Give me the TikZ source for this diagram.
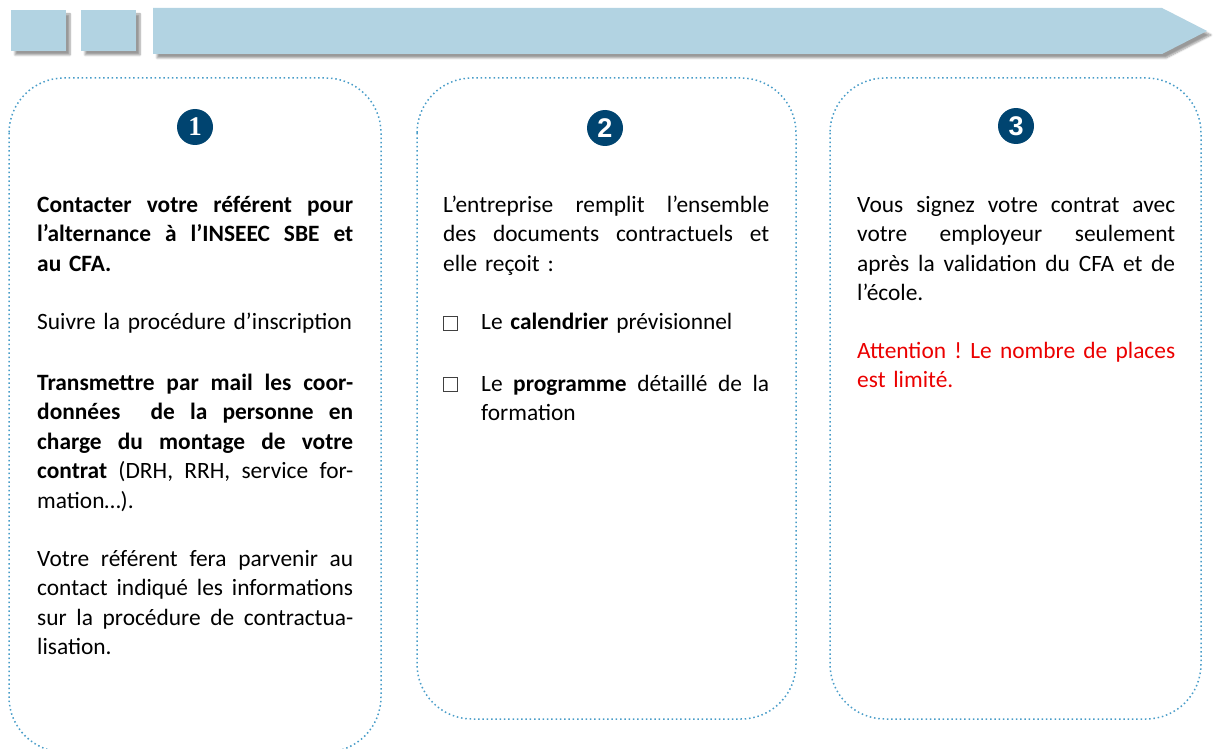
\documentclass[tikz,border=0pt]{standalone}
\usepackage{fontspec}
\setmainfont{Carlito}
\newfontfamily\chiffresans{Liberation Sans}
\newfontfamily\chiffreserif{Liberation Serif}
\usepackage{xcolor}
\usepackage{tikz}
\usetikzlibrary{shadows.blur}
\definecolor{bandeau}{RGB}{178,211,226}
\definecolor{pointille}{RGB}{72,156,200}
\definecolor{pastille}{RGB}{0,68,112}
\definecolor{alerte}{RGB}{235,0,0}
\newcommand{\ligne}[2][316pt]{\makebox[#1][s]{\spaceskip=.226em plus 1fil minus .03em\xspaceskip=\spaceskip #2}}

\begin{document}
\begin{tikzpicture}[x=1pt,y=-1pt,
	ombre/.style={blur shadow={shadow xshift=4pt,shadow yshift=-4pt,shadow blur steps=6,shadow opacity=40}},
	cadre/.style={draw=pointille,line width=1.5pt,dash pattern=on 1.5pt off 2.8pt,rounded corners=55pt},
	numero/.style={circle,fill=pastille,minimum size=36pt,inner sep=0pt,text=white,font=\fontsize{27}{27}\selectfont\bfseries},
	texte/.style={anchor=base west,inner sep=0pt,align=left,font=\fontsize{23.4}{29.5}\selectfont},
	case/.style={draw=black!75,line width=1pt,minimum size=14pt,inner sep=0pt}]
		\useasboundingbox (0,0) rectangle (1215,749);
		\fill[bandeau,ombre] (11,10) rectangle (66,51);
		\fill[bandeau,ombre] (81,10) rectangle (136,51);
		\fill[bandeau,ombre] (153,8) -- (1162,8) -- (1207,31) -- (1162,54) -- (153,54) -- cycle;
		\draw[cadre] (9,78) rectangle (381,752);
		\draw[cadre] (417,78) rectangle (796,719);
		\draw[cadre] (830,78) rectangle (1201,719);
		\node[numero] (n1) at (195,127) {\chiffreserif 1};
		\node[numero] (n2) at (605,128) {\chiffresans 2};
		\node[numero] (n3) at (1016,126) {\chiffresans 3};
		\node[texte,text width=316pt,font=\fontsize{23.4}{29.5}\selectfont\bfseries] (a1) at (37,212)
			{\ligne{Contacter votre référent pour}\\\ligne{l’alternance à l’INSEEC SBE et}\\au CFA.};
		\node[texte,text width=316pt] (a2) at (37,329) {Suivre la procédure d’inscription};
		\node[texte,text width=316pt] (a3) at (37,390)
			{\ligne{\bfseries Transmettre par mail les coor-}\\\ligne{\bfseries données\ \ de la personne en}\\\ligne{\bfseries charge du montage de votre}\\\ligne{\textbf{contrat} (DRH, RRH, service for-}\\mation…).};
		\node[texte,text width=316pt] (a4) at (37,566)
			{\ligne{Votre référent fera parvenir au}\\\ligne{contact indiqué les informations}\\\ligne{sur la procédure de contractua-}\\lisation.};
		\node[texte,text width=326pt] (b1) at (443,212)
			{\ligne[326pt]{L’entreprise remplit l’ensemble}\\\ligne[326pt]{des documents contractuels et}\\elle reçoit :};
		\node[case] (c1) at (450.5,323) {};
		\node[texte,text width=288pt] (b2) at (481,329) {Le \textbf{calendrier} prévisionnel};
		\node[case] (c2) at (450.5,384) {};
		\node[texte,text width=288pt] (b3) at (481,391)
			{\ligne[288pt]{Le \textbf{programme} détaillé de la}\\formation};
		\node[texte,text width=318pt] (d1) at (857,212)
			{\ligne[318pt]{Vous signez votre contrat avec}\\\ligne[318pt]{votre employeur seulement}\\\ligne[318pt]{après la validation du CFA et de}\\l’école.};
		\node[texte,text width=318pt,text=alerte] (d2) at (857,358)
			{\ligne[318pt]{Attention ! Le nombre de places}\\est limité.};
	\end{tikzpicture}
\end{document}
